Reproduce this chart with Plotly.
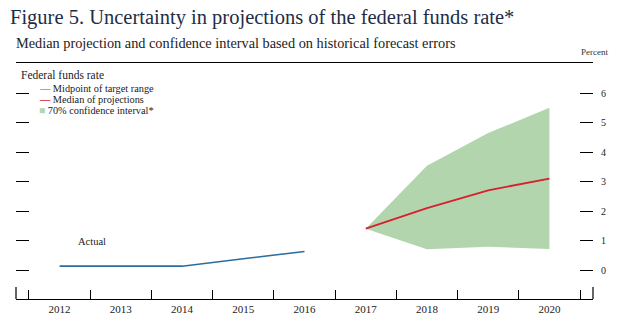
import plotly.graph_objects as go

# ---- data ----
years_actual = [2012, 2013, 2014, 2015, 2016]
actual_rate = [0.13, 0.13, 0.13, 0.38, 0.63]

years_proj = [2017, 2018, 2019, 2020]
median_proj = [1.4, 2.1, 2.7, 3.1]
ci_upper = [1.4, 3.53, 4.64, 5.5]
ci_lower = [1.4, 0.7, 0.79, 0.71]

year_ticks = [2012, 2013, 2014, 2015, 2016, 2017, 2018, 2019, 2020]
year_labels = [str(y) for y in year_ticks]
year_dividers = [y + 0.5 for y in [2011] + year_ticks]
y_ticks = [0, 1, 2, 3, 4, 5, 6]

# ---- style ----
W, H = 630, 327
L, R, T, B = 16, 37, 63, 28
PW, PH = W - L - R, H - T - B
SERIF = "Liberation Serif, Times New Roman, serif"
BLUE = "#2a6d9e"
RED = "#d8202c"
GREEN = "#b2d5ae"
XR = [2011.288, 2020.712]
YR = [-0.983, 7.017]


def px(xp):
    return (xp - L) / PW


def py(yp):
    return (H - B - yp) / PH


fig = go.Figure()

fig.add_trace(go.Scatter(x=years_proj, y=ci_lower, mode="lines",
                         line=dict(width=0, color=GREEN), showlegend=False,
                         hoverinfo="skip"))
fig.add_trace(go.Scatter(x=years_proj, y=ci_upper, mode="lines",
                         line=dict(width=0, color=GREEN), fill="tonexty",
                         fillcolor=GREEN, name="70% confidence interval*",
                         showlegend=False))
fig.add_trace(go.Scatter(x=years_actual, y=actual_rate, mode="lines",
                         line=dict(color=BLUE, width=1.6),
                         name="Midpoint of target range", showlegend=False))
fig.add_trace(go.Scatter(x=years_proj, y=median_proj, mode="lines",
                         line=dict(color=RED, width=1.8),
                         name="Median of projections", showlegend=False,
                         yaxis="y2"))

fig.update_layout(
    width=W, height=H,
    margin=dict(l=L, r=R, t=T, b=B, pad=0),
    paper_bgcolor="white", plot_bgcolor="white",
    showlegend=False,
    font=dict(family=SERIF, color="#222222"),
    xaxis=dict(
        range=XR, showgrid=False, zeroline=False,
        showline=True, linecolor="black", linewidth=1.2, mirror=True,
        tickmode="array", tickvals=year_ticks, ticktext=year_labels,
        ticks="", tickfont=dict(family=SERIF, size=11, color="#222222"),
        minor=dict(tickmode="array", tickvals=year_dividers, ticks="inside",
                   ticklen=9, tickwidth=1.2, tickcolor="black"),
    ),
    yaxis=dict(
        range=YR, showgrid=False, zeroline=False, showline=False,
        tickmode="array", tickvals=y_ticks, ticks="inside", ticklen=13,
        tickwidth=1.4, tickcolor="black", showticklabels=False,
    ),
    yaxis2=dict(
        range=YR, overlaying="y", side="right", anchor="x",
        showgrid=False, zeroline=False, showline=False,
        tickmode="array", tickvals=y_ticks, ticks="inside", ticklen=13,
        tickwidth=1.4, tickcolor="black", ticklabelstandoff=7,
        tickfont=dict(family=SERIF, size=10, color="#222222"),
    ),
)

# end verticals of the bottom axis
for xe in [0, 1]:
    fig.add_shape(type="line", xref="paper", yref="paper", x0=xe, x1=xe,
                  ysizemode="pixel", yanchor=0, y0=0, y1=12,
                  line=dict(color="black", width=1.2))

ann = []
ann.append(dict(text="Figure 5. Uncertainty in projections of the federal funds rate*",
                xref="paper", yref="paper", x=px(8), y=py(17), xanchor="left",
                yanchor="middle", showarrow=False,
                font=dict(family=SERIF, size=20.5, color="#1e2d47")))
ann.append(dict(text="Median projection and confidence interval based on historical forecast errors",
                xref="paper", yref="paper", x=px(14), y=py(43), xanchor="left",
                yanchor="middle", showarrow=False,
                font=dict(family=SERIF, size=14.3, color="#222222")))
ann.append(dict(text="Percent", xref="paper", yref="paper", x=px(579), y=py(52),
                xanchor="left", yanchor="middle", showarrow=False,
                font=dict(family=SERIF, size=9, color="#333333")))
ann.append(dict(text="Federal funds rate", xref="paper", yref="paper", x=px(19), y=py(75),
                xanchor="left", yanchor="middle", showarrow=False,
                font=dict(family=SERIF, size=11.5, color="#222222")))
legend_items = [
    (f"<span style='color:{BLUE}'>—</span> Midpoint of target range", 88),
    (f"<span style='color:{RED}'><b>—</b></span> Median of projections", 99),
    (f"<span style='color:{GREEN}'>■</span> 70% confidence interval*", 110),
]
for txt, yp in legend_items:
    ann.append(dict(text=txt, xref="paper", yref="paper", x=px(37), y=py(yp),
                    xanchor="left", yanchor="middle", showarrow=False,
                    font=dict(family=SERIF, size=10.3, color="#222222")))
ann.append(dict(text="Actual", xref="x", yref="y", x=2012.53, y=0.98,
                xanchor="center", yanchor="middle", showarrow=False,
                font=dict(family=SERIF, size=10.5, color="#222222")))
fig.update_layout(annotations=ann)

fig.write_html("out.html")
